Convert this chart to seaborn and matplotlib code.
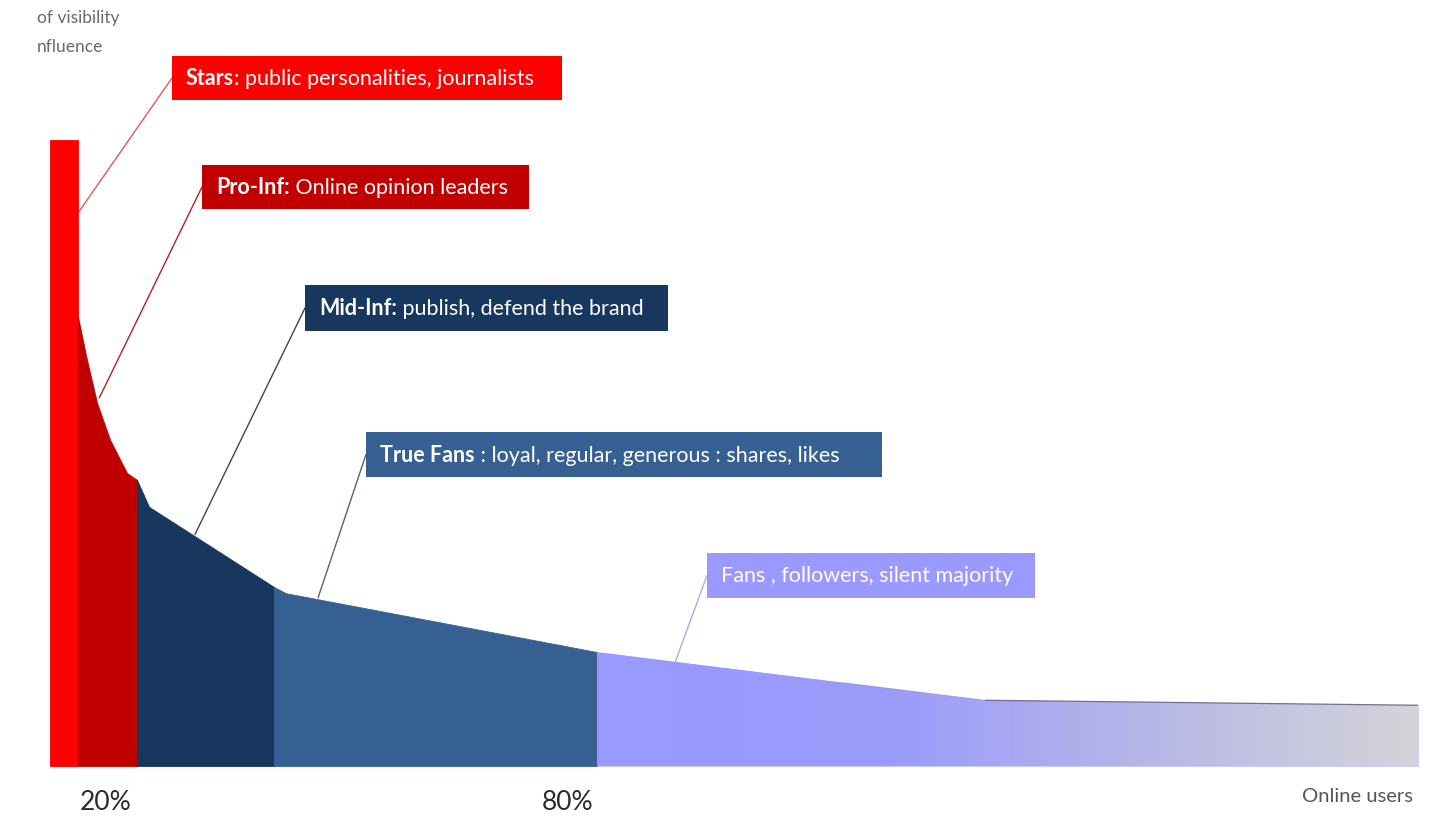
import numpy as np
import matplotlib
matplotlib.use("Agg")
import matplotlib.pyplot as plt
import seaborn as sns
from matplotlib.colors import LinearSegmentedColormap

# ---------------- data (x: share of online users, y: visibility / influence) -------------
segments = ["Stars", "Pro-Inf", "Mid-Inf", "True Fans", "Fans"]
stars_x = [0.0, 2.05]
stars_y = [100.0, 100.0]
proinf_x = [2.05, 2.70, 3.44, 4.39, 5.63, 6.36]
proinf_y = [71.7, 64.9, 58.0, 52.1, 46.8, 45.7]
midinf_x = [6.36, 7.24, 16.37]
midinf_y = [45.7, 41.4, 28.6]
truefans_x = [16.37, 17.25, 39.99]
truefans_y = [28.6, 27.6, 18.2]
fans_x = [39.99, 68.35, 100.0]
fans_y = [18.2, 10.5, 9.7]

seg_colors = ["#ff0000", "#c00000", "#17375e", "#376092", "#9999ff"]
line_colors = ["#e05a5a", "#b02424", "#3a4656", "#52627a", "#aaaaf5"]
label_bold = ["Stars", "Pro-Inf:", "Mid-Inf:", "True Fans", ""]
label_rest = [": public personalities, journalists",
              " Online opinion leaders",
              " publish, defend the brand",
              " : loyal, regular, generous : shares, likes",
              "Fans , followers, silent majority"]
tick_pos = [4.1, 37.8]
tick_labels = ["20%", "80%"]
y_title = ["of visibility", "nfluence"]
x_title = "Online users"

# ---------------- layout ----------------
W, H = 1430, 819
PX_PER_UNIT = 6.26
sns.set_theme(style="white")
plt.rcParams['font.family'] = ['Lato', 'DejaVu Sans']

fig = plt.figure(figsize=(W / 100, H / 100), dpi=100)
fig.patch.set_facecolor("white")


def fx(px):
    return px / W


def fy(py):
    return 1 - py / H


ax = fig.add_axes([fx(50), fy(780), fx(1418) - fx(50), fy(0) - fy(780)])
ax.set_facecolor("white")

xs_all = [stars_x, proinf_x, midinf_x, truefans_x, fans_x]
ys_all = [stars_y, proinf_y, midinf_y, truefans_y, fans_y]

fans_poly = None
for i, (xs, ys) in enumerate(zip(xs_all, ys_all)):
    if segments[i] == "Fans":
        fans_poly = ax.fill_between(xs, 0, ys, facecolor=seg_colors[i], lw=0, zorder=2)
    else:
        ax.fill_between(xs, 0, ys, facecolor=seg_colors[i], edgecolor=seg_colors[i],
                        lw=0.6, zorder=2)

# gradient over the long tail
cmap = LinearSegmentedColormap.from_list(
    "tail", [(0.0, "#9999ff"), (0.36, "#9b9bfb"), (0.7, "#b9b9e6"), (1.0, "#d4d4d9")])
grad = np.linspace(0, 1, 600)[None, :]
im = ax.imshow(grad, extent=[fans_x[0], fans_x[-1], 0, max(fans_y)], aspect="auto",
               cmap=cmap, origin="lower", zorder=3, interpolation="bilinear")
im.set_clip_path(fans_poly.get_paths()[0], transform=ax.transData)

# thin outline along the tail top
sns.lineplot(x=fans_x[1:], y=fans_y[1:], color="#707090", lw=0.9, ax=ax,
             estimator=None, sort=False, zorder=4)
x_mid = fans_x[0] + 18
sns.lineplot(x=[x_mid, fans_x[1]],
             y=[np.interp(x_mid, fans_x, fans_y), fans_y[1]],
             color="#8080b0", lw=0.6, ax=ax, estimator=None, sort=False, zorder=4, alpha=0.5)

ax.set_xlim(0, 100)
ax.set_ylim(-(780 - 766) / PX_PER_UNIT, 766 / PX_PER_UNIT)
ax.set_frame_on(False)
ax.set_yticks([])
ax.set_xticks(tick_pos, tick_labels)
ax.tick_params(axis="x", length=0, pad=7, labelsize=19, labelcolor="#2b2b2b")
ax.set_xlabel("")
ax.set_ylabel("")
ax.grid(False)

# ---------------- label boxes + leader lines ----------------
boxes = [(172, 56, 562, 100), (202, 165, 529, 209), (305, 285, 668, 331),
         (366, 432, 882, 477), (707, 553, 1035, 598)]
anchors = [(2.1, 88.5), (3.6, 58.8), (10.6, 37.0), (19.6, 26.9), (45.7, 16.6)]

fig.canvas.draw()
renderer = fig.canvas.get_renderer()
for i, (x0, y0, x1, y1) in enumerate(boxes):
    rect = plt.Rectangle((fx(x0), fy(y1)), fx(x1) - fx(x0), fy(y0) - fy(y1),
                         transform=fig.transFigure, facecolor=seg_colors[i],
                         edgecolor="none", zorder=5)
    fig.patches.append(rect)
    base_y = fy((y0 + y1) / 2 + 7)
    tx = fx(x0 + 14)
    if label_bold[i]:
        t1 = fig.text(tx, base_y, label_bold[i], fontweight="bold", color="white",
                      fontsize=15.5, va="baseline", ha="left", zorder=6)
        bb = t1.get_window_extent(renderer)
        tx = bb.x1 / fig.bbox.width
    fig.text(tx, base_y, label_rest[i], color="white", fontsize=15.5,
             va="baseline", ha="left", zorder=6)
    ax.annotate("", xy=anchors[i], xycoords="data",
                xytext=(fx(x0), fy((y0 + y1) / 2)), textcoords="figure fraction",
                arrowprops=dict(arrowstyle="-", color=line_colors[i], lw=1.0,
                                shrinkA=0, shrinkB=0),
                annotation_clip=False, zorder=4)

# ---------------- axis titles ----------------
fig.text(fx(37), fy(18), y_title[0], color="#6a6a6a", fontsize=12.5, va="center", ha="left")
fig.text(fx(37), fy(47), y_title[1], color="#6a6a6a", fontsize=12.5, va="center", ha="left")
fig.text(fx(1413), fy(796), x_title, color="#555555", fontsize=14.5, va="center", ha="right")

fig.savefig("out.png", dpi=100, facecolor="white")
